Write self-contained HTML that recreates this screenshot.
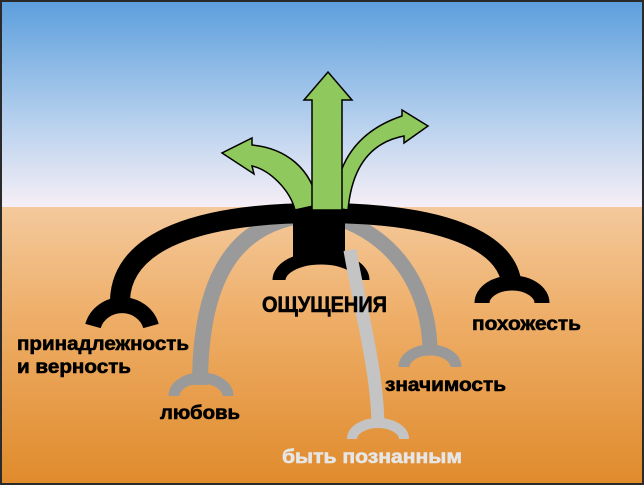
<!DOCTYPE html>
<html><head><meta charset="utf-8"><style>
html,body{margin:0;padding:0;background:#222}
svg{display:block}
text{font-family:"Liberation Sans",sans-serif;font-weight:bold}
</style></head><body>
<svg width="644" height="485" viewBox="0 0 644 485" xmlns="http://www.w3.org/2000/svg">
<defs>
<linearGradient id="sky" x1="0" y1="0" x2="0" y2="1">
<stop offset="0" stop-color="#5d9fdd"/><stop offset="0.6" stop-color="#b9d2ee"/><stop offset="1" stop-color="#f7eff6"/>
</linearGradient>
<linearGradient id="gr" x1="0" y1="0" x2="0" y2="1">
<stop offset="0" stop-color="#f4c99c"/><stop offset="0.4" stop-color="#eeae68"/><stop offset="1" stop-color="#e08b2c"/>
</linearGradient>
</defs>
<rect x="0" y="0" width="644" height="485" fill="#2a2a2a"/>
<rect x="2" y="2" width="640" height="206" fill="url(#sky)"/>
<rect x="2" y="207" width="640" height="276" fill="url(#gr)"/>

<!-- gray roots -->
<path d="M318,214 C240,218 200,270 200,385" fill="none" stroke="#9a9a9a" stroke-width="16"/>
<path d="M174,396 A27,18 0 0 1 228,396" fill="none" stroke="#9a9a9a" stroke-width="11"/>
<path d="M322,214 C395,230 430,290 430,352" fill="none" stroke="#999" stroke-width="15"/>
<path d="M404,367 A26,17 0 0 1 456,367" fill="none" stroke="#999" stroke-width="11"/>

<!-- black arcs -->
<path d="M320,213 C200,213 122,240 120,300" fill="none" stroke="#000" stroke-width="20"/>
<path d="M93,326 A30,28 0 0 1 151,326" fill="none" stroke="#000" stroke-width="16"/>
<path d="M320,213 C440,213 512,240 512,290" fill="none" stroke="#000" stroke-width="20"/>
<path d="M482,303 A30,20 0 0 1 542,303" fill="none" stroke="#000" stroke-width="15"/>
<rect x="293" y="212" width="52" height="52" fill="#000"/>
<path d="M279,280 A42,22 0 0 1 363,280" fill="none" stroke="#000" stroke-width="13"/>

<!-- light gray root -->
<path d="M350,250 C358,300 378,370 378,428" fill="none" stroke="#c4c4c4" stroke-width="13"/>
<path d="M352,439 A26,16 0 0 1 404,439" fill="none" stroke="#c4c4c4" stroke-width="10"/>

<!-- green arrows -->
<g fill="#8fc85c" stroke="#000" stroke-width="1.5" stroke-linejoin="miter">
<path d="M295,210 C290,190 270,170 252,166 L254,174 L222,153 L252,138 L252,145 C285,148 312,168 318,205 Z"/>
<path d="M334,208 C336,160 360,130 402,116 L402,110 L428,126 L404,143 L404,136 C372,142 352,165 348,210 Z"/>
<path d="M312,210 L312,100 L304,100 L328,72 L352,100 L342,100 L342,210 Z"/>
</g>

<!-- labels -->
<g stroke-width="0.6">
<text x="262" y="312" font-size="22" textLength="125" lengthAdjust="spacingAndGlyphs" fill="#000" stroke="#000">ОЩУЩЕНИЯ</text>
<text x="17" y="350" font-size="19" textLength="172" lengthAdjust="spacingAndGlyphs" fill="#000" stroke="#000">принадлежность</text>
<text x="17" y="373" font-size="19" textLength="114" lengthAdjust="spacingAndGlyphs" fill="#000" stroke="#000">и верность</text>
<text x="160" y="419" font-size="19" textLength="80" lengthAdjust="spacingAndGlyphs" fill="#000" stroke="#000">любовь</text>
<text x="385" y="391" font-size="19" textLength="121" lengthAdjust="spacingAndGlyphs" fill="#000" stroke="#000">значимость</text>
<text x="472" y="330" font-size="19" textLength="109" lengthAdjust="spacingAndGlyphs" fill="#000" stroke="#000">похожесть</text>
<text x="282" y="463" font-size="19" textLength="180" lengthAdjust="spacingAndGlyphs" fill="#e6e6e6" stroke="#e6e6e6">быть познанным</text>
</g>
</svg>
</body></html>
